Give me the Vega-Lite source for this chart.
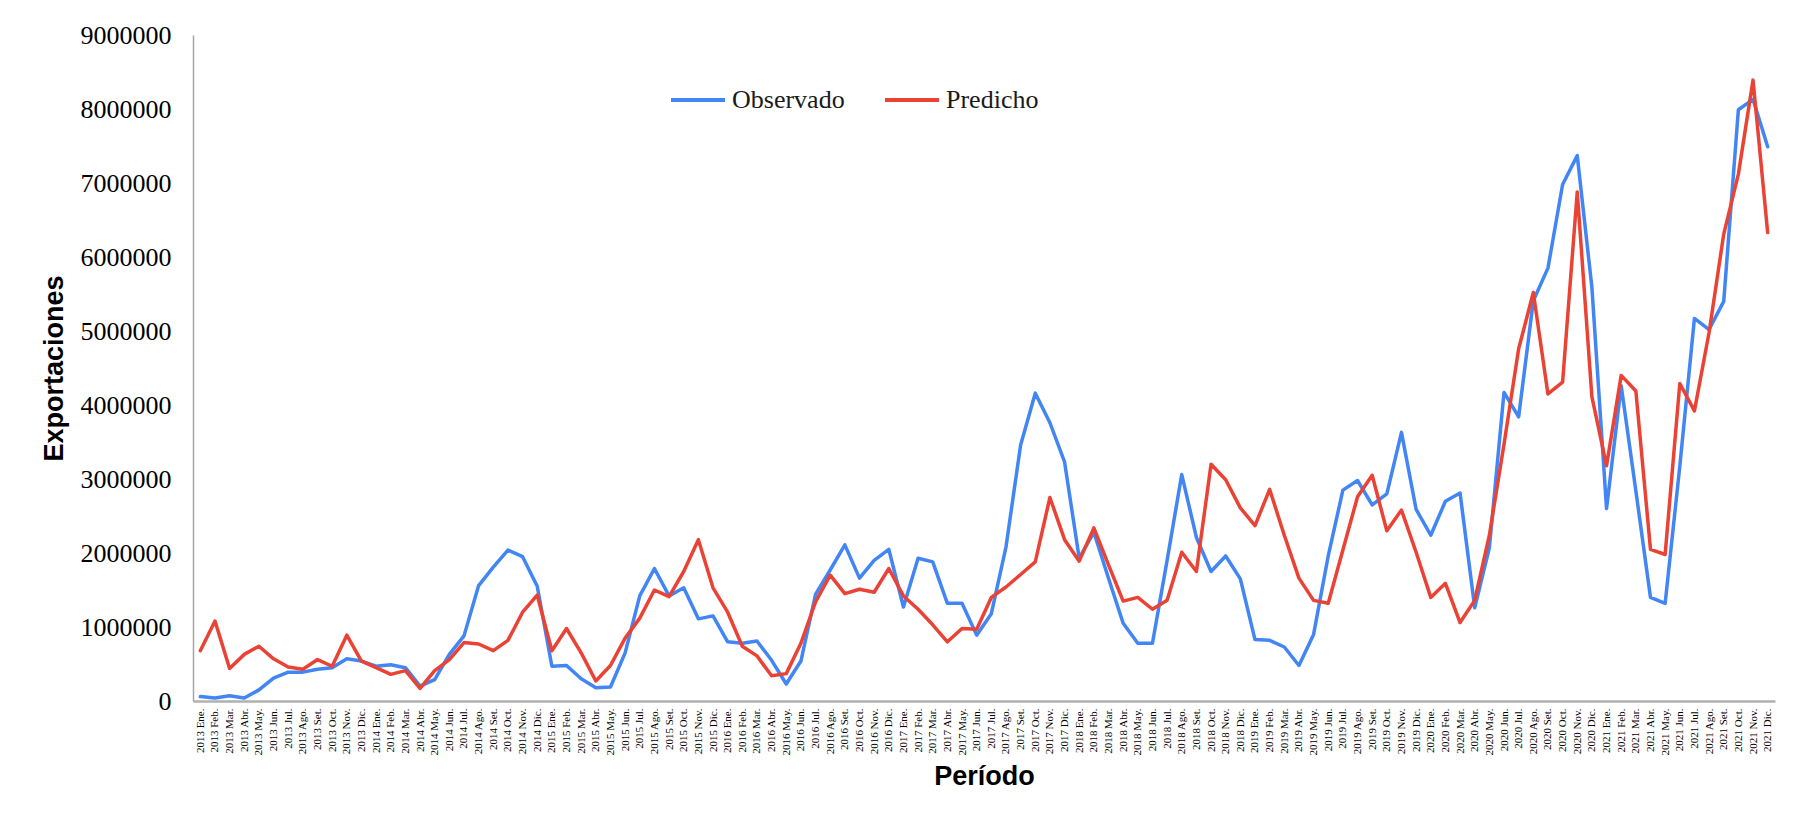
{
  "$schema": "https://vega.github.io/schema/vega-lite/v6.json",
  "width": 1582,
  "height": 666,
  "autosize": "none",
  "padding": {"left": 193, "top": 35, "right": 19, "bottom": 117},
  "background": "white",
  "config": {
    "view": {"stroke": null},
    "axis": {"grid": false}
  },
  "data": {
    "values": [
      {"periodo": "2013 Ene.", "Observado": 60000, "Predicho": 680000},
      {"periodo": "2013 Feb.", "Observado": 40000, "Predicho": 1080000},
      {"periodo": "2013 Mar.", "Observado": 70000, "Predicho": 440000},
      {"periodo": "2013 Abr.", "Observado": 40000, "Predicho": 630000},
      {"periodo": "2013 May.", "Observado": 150000, "Predicho": 740000},
      {"periodo": "2013 Jun.", "Observado": 310000, "Predicho": 570000},
      {"periodo": "2013 Jul.", "Observado": 390000, "Predicho": 460000},
      {"periodo": "2013 Ago.", "Observado": 390000, "Predicho": 430000},
      {"periodo": "2013 Set.", "Observado": 430000, "Predicho": 560000},
      {"periodo": "2013 Oct.", "Observado": 450000, "Predicho": 470000},
      {"periodo": "2013 Nov.", "Observado": 570000, "Predicho": 890000},
      {"periodo": "2013 Dic.", "Observado": 540000, "Predicho": 540000},
      {"periodo": "2014 Ene.", "Observado": 470000, "Predicho": 450000},
      {"periodo": "2014 Feb.", "Observado": 490000, "Predicho": 360000},
      {"periodo": "2014 Mar.", "Observado": 450000, "Predicho": 410000},
      {"periodo": "2014 Abr.", "Observado": 200000, "Predicho": 170000},
      {"periodo": "2014 May.", "Observado": 290000, "Predicho": 410000},
      {"periodo": "2014 Jun.", "Observado": 630000, "Predicho": 560000},
      {"periodo": "2014 Jul.", "Observado": 880000, "Predicho": 790000},
      {"periodo": "2014 Ago.", "Observado": 1560000, "Predicho": 770000},
      {"periodo": "2014 Set.", "Observado": 1810000, "Predicho": 680000},
      {"periodo": "2014 Oct.", "Observado": 2040000, "Predicho": 820000},
      {"periodo": "2014 Nov.", "Observado": 1950000, "Predicho": 1200000},
      {"periodo": "2014 Dic.", "Observado": 1550000, "Predicho": 1430000},
      {"periodo": "2015 Ene.", "Observado": 470000, "Predicho": 680000},
      {"periodo": "2015 Feb.", "Observado": 480000, "Predicho": 980000},
      {"periodo": "2015 Mar.", "Observado": 300000, "Predicho": 650000},
      {"periodo": "2015 Abr.", "Observado": 180000, "Predicho": 270000},
      {"periodo": "2015 May.", "Observado": 190000, "Predicho": 480000},
      {"periodo": "2015 Jun.", "Observado": 650000, "Predicho": 850000},
      {"periodo": "2015 Jul.", "Observado": 1420000, "Predicho": 1120000},
      {"periodo": "2015 Ago.", "Observado": 1790000, "Predicho": 1500000},
      {"periodo": "2015 Set.", "Observado": 1420000, "Predicho": 1410000},
      {"periodo": "2015 Oct.", "Observado": 1530000, "Predicho": 1750000},
      {"periodo": "2015 Nov.", "Observado": 1110000, "Predicho": 2180000},
      {"periodo": "2015 Dic.", "Observado": 1150000, "Predicho": 1530000},
      {"periodo": "2016 Ene.", "Observado": 800000, "Predicho": 1200000},
      {"periodo": "2016 Feb.", "Observado": 780000, "Predicho": 740000},
      {"periodo": "2016 Mar.", "Observado": 810000, "Predicho": 610000},
      {"periodo": "2016 Abr.", "Observado": 550000, "Predicho": 340000},
      {"periodo": "2016 May.", "Observado": 230000, "Predicho": 370000},
      {"periodo": "2016 Jun.", "Observado": 540000, "Predicho": 780000},
      {"periodo": "2016 Jul.", "Observado": 1440000, "Predicho": 1340000},
      {"periodo": "2016 Ago.", "Observado": 1770000, "Predicho": 1700000},
      {"periodo": "2016 Set.", "Observado": 2110000, "Predicho": 1450000},
      {"periodo": "2016 Oct.", "Observado": 1660000, "Predicho": 1510000},
      {"periodo": "2016 Nov.", "Observado": 1900000, "Predicho": 1470000},
      {"periodo": "2016 Dic.", "Observado": 2050000, "Predicho": 1790000},
      {"periodo": "2017 Ene.", "Observado": 1270000, "Predicho": 1420000},
      {"periodo": "2017 Feb.", "Observado": 1930000, "Predicho": 1240000},
      {"periodo": "2017 Mar.", "Observado": 1880000, "Predicho": 1030000},
      {"periodo": "2017 Abr.", "Observado": 1320000, "Predicho": 800000},
      {"periodo": "2017 May.", "Observado": 1320000, "Predicho": 980000},
      {"periodo": "2017 Jun.", "Observado": 890000, "Predicho": 970000},
      {"periodo": "2017 Jul.", "Observado": 1180000, "Predicho": 1400000},
      {"periodo": "2017 Ago.", "Observado": 2080000, "Predicho": 1540000},
      {"periodo": "2017 Set.", "Observado": 3460000, "Predicho": 1710000},
      {"periodo": "2017 Oct.", "Observado": 4160000, "Predicho": 1880000},
      {"periodo": "2017 Nov.", "Observado": 3760000, "Predicho": 2750000},
      {"periodo": "2017 Dic.", "Observado": 3230000, "Predicho": 2180000},
      {"periodo": "2018 Ene.", "Observado": 1930000, "Predicho": 1890000},
      {"periodo": "2018 Feb.", "Observado": 2280000, "Predicho": 2340000},
      {"periodo": "2018 Mar.", "Observado": 1660000, "Predicho": 1840000},
      {"periodo": "2018 Abr.", "Observado": 1050000, "Predicho": 1350000},
      {"periodo": "2018 May.", "Observado": 780000, "Predicho": 1400000},
      {"periodo": "2018 Jun.", "Observado": 780000, "Predicho": 1240000},
      {"periodo": "2018 Jul.", "Observado": 1900000, "Predicho": 1360000},
      {"periodo": "2018 Ago.", "Observado": 3060000, "Predicho": 2010000},
      {"periodo": "2018 Set.", "Observado": 2210000, "Predicho": 1750000},
      {"periodo": "2018 Oct.", "Observado": 1750000, "Predicho": 3200000},
      {"periodo": "2018 Nov.", "Observado": 1960000, "Predicho": 2990000},
      {"periodo": "2018 Dic.", "Observado": 1650000, "Predicho": 2610000},
      {"periodo": "2019 Ene.", "Observado": 830000, "Predicho": 2370000},
      {"periodo": "2019 Feb.", "Observado": 820000, "Predicho": 2860000},
      {"periodo": "2019 Mar.", "Observado": 730000, "Predicho": 2240000},
      {"periodo": "2019 Abr.", "Observado": 480000, "Predicho": 1660000},
      {"periodo": "2019 May.", "Observado": 900000, "Predicho": 1360000},
      {"periodo": "2019 Jun.", "Observado": 1960000, "Predicho": 1320000},
      {"periodo": "2019 Jul.", "Observado": 2850000, "Predicho": 2040000},
      {"periodo": "2019 Ago.", "Observado": 2980000, "Predicho": 2760000},
      {"periodo": "2019 Set.", "Observado": 2650000, "Predicho": 3050000},
      {"periodo": "2019 Oct.", "Observado": 2800000, "Predicho": 2300000},
      {"periodo": "2019 Nov.", "Observado": 3630000, "Predicho": 2580000},
      {"periodo": "2019 Dic.", "Observado": 2590000, "Predicho": 2010000},
      {"periodo": "2020 Ene.", "Observado": 2240000, "Predicho": 1400000},
      {"periodo": "2020 Feb.", "Observado": 2700000, "Predicho": 1590000},
      {"periodo": "2020 Mar.", "Observado": 2810000, "Predicho": 1060000},
      {"periodo": "2020 Abr.", "Observado": 1260000, "Predicho": 1360000},
      {"periodo": "2020 May.", "Observado": 2070000, "Predicho": 2240000},
      {"periodo": "2020 Jun.", "Observado": 4170000, "Predicho": 3470000},
      {"periodo": "2020 Jul.", "Observado": 3840000, "Predicho": 4760000},
      {"periodo": "2020 Ago.", "Observado": 5410000, "Predicho": 5520000},
      {"periodo": "2020 Set.", "Observado": 5850000, "Predicho": 4150000},
      {"periodo": "2020 Oct.", "Observado": 6980000, "Predicho": 4310000},
      {"periodo": "2020 Nov.", "Observado": 7370000, "Predicho": 6880000},
      {"periodo": "2020 Dic.", "Observado": 5590000, "Predicho": 4110000},
      {"periodo": "2021 Ene.", "Observado": 2600000, "Predicho": 3180000},
      {"periodo": "2021 Feb.", "Observado": 4260000, "Predicho": 4400000},
      {"periodo": "2021 Mar.", "Observado": 2840000, "Predicho": 4190000},
      {"periodo": "2021 Abr.", "Observado": 1400000, "Predicho": 2050000},
      {"periodo": "2021 May.", "Observado": 1320000, "Predicho": 1980000},
      {"periodo": "2021 Jun.", "Observado": 3170000, "Predicho": 4290000},
      {"periodo": "2021 Jul.", "Observado": 5170000, "Predicho": 3920000},
      {"periodo": "2021 Ago.", "Observado": 5020000, "Predicho": 4980000},
      {"periodo": "2021 Set.", "Observado": 5400000, "Predicho": 6310000},
      {"periodo": "2021 Oct.", "Observado": 7990000, "Predicho": 7120000},
      {"periodo": "2021 Nov.", "Observado": 8130000, "Predicho": 8390000},
      {"periodo": "2021 Dic.", "Observado": 7490000, "Predicho": 6330000}
    ]
  },
  "transform": [
    {"fold": ["Observado", "Predicho"], "as": ["serie", "valor"]}
  ],
  "mark": {"type": "line", "strokeWidth": 3.5, "strokeJoin": "round", "strokeCap": "round"},
  "encoding": {
    "x": {
      "field": "periodo",
      "type": "ordinal",
      "sort": null,
      "scale": {"padding": 0.5},
      "axis": {
        "title": "Período",
        "titleFont": "Liberation Sans",
        "titleFontSize": 27,
        "titleFontWeight": "bold",
        "titleColor": "#000000",
        "titleBaseline": "top",
        "titleY": 62,
        "labelAngle": -90,
        "labelFont": "Liberation Serif",
        "labelFontSize": 11,
        "labelColor": "#000000",
        "labelPadding": 7,
        "labelOverlap": false,
        "ticks": false,
        "domainColor": "#b0b0b0",
        "domainWidth": 2.5
      }
    },
    "y": {
      "field": "valor",
      "type": "quantitative",
      "scale": {"domain": [0, 9000000], "nice": false},
      "axis": {
        "title": "Exportaciones",
        "titleFont": "Liberation Sans",
        "titleFontSize": 27,
        "titleFontWeight": "bold",
        "titleColor": "#000000",
        "titleAngle": -90,
        "titleBaseline": "bottom",
        "titleX": -125,
        "titleY": 333,
        "values": [0, 1000000, 2000000, 3000000, 4000000, 5000000, 6000000, 7000000, 8000000, 9000000],
        "format": "d",
        "labelFont": "Liberation Serif",
        "labelFontSize": 26,
        "labelColor": "#000000",
        "labelPadding": 22,
        "ticks": false,
        "domainColor": "#a6a6a6",
        "domainWidth": 1.5
      }
    },
    "color": {
      "field": "serie",
      "type": "nominal",
      "scale": {"domain": ["Observado", "Predicho"], "range": ["#4285F4", "#EA4335"]},
      "legend": {
        "title": null,
        "orient": "none",
        "direction": "horizontal",
        "legendX": 476,
        "legendY": 36,
        "padding": 0,
        "symbolType": "stroke",
        "symbolSize": 2916,
        "symbolStrokeWidth": 4,
        "labelFont": "Liberation Serif",
        "labelFontSize": 26,
        "labelColor": "#1a1a1a",
        "labelOffset": 5,
        "columnPadding": 32
      }
    }
  }
}
